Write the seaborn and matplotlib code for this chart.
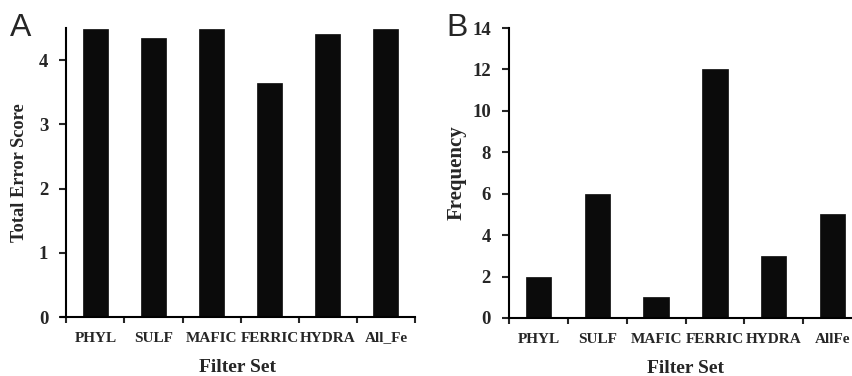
import matplotlib
matplotlib.use("Agg")
import matplotlib.pyplot as plt
import seaborn as sns
import pandas as pd
import numpy as np

# Filter sets and their scores
filter_sets_a = ["PHYL", "SULF", "MAFIC", "FERRIC", "HYDRA", "All_Fe"]
total_error = [4.49, 4.35, 4.49, 3.65, 4.41, 4.49]

filter_sets_b = ["PHYL", "SULF", "MAFIC", "FERRIC", "HYDRA", "AllFe"]
frequency = [2, 6, 1, 12, 3, 5]

sns.set_theme(style="ticks")
plt.rcParams["font.family"] = ["Liberation Serif", "DejaVu Serif"]
plt.rcParams["font.weight"] = "bold"

BAR = "#0b0b0b"
LW = 1.5

fig = plt.figure(figsize=(8.53, 3.76), dpi=100)
W, H = 853.0, 376.0

def px_axes(left, right, top, bottom):
    return fig.add_axes([left / W, 1 - bottom / H, (right - left) / W, (bottom - top) / H])

ax_a = px_axes(60.5, 415, 28, 317)
ax_b = px_axes(509, 862, 28, 318)

def style(ax, cats, vals, ylim, yticks, ylabel, xstart, ytick_fs, ylabel_fs, ylabel_pad):
    df = pd.DataFrame({"cat": cats, "val": vals})
    sns.barplot(data=df, x="cat", y="val", color=BAR, width=0.43,
                saturation=1, edgecolor=BAR, linewidth=0.5, ax=ax)
    ax.set_xlim(xstart, 5.5)
    ax.set_ylim(*ylim)
    ax.set_yticks(yticks)
    ax.set_xticks(range(len(cats)))
    ax.set_xticklabels(cats)
    ax.set_xticks(np.arange(-0.5, 6.0, 1.0), minor=True)
    ax.tick_params(axis="x", which="major", length=0, pad=10.5, labelsize=11)
    ax.tick_params(axis="x", which="minor", length=4, width=LW, direction="out")
    ax.tick_params(axis="y", which="major", length=5, width=LW, direction="out", pad=8,
                   labelsize=ytick_fs)
    for lab in ax.get_xticklabels() + ax.get_yticklabels():
        lab.set_fontweight("bold")
    for s in ["top", "right"]:
        ax.spines[s].set_visible(False)
    for s in ["left", "bottom"]:
        ax.spines[s].set_linewidth(LW)
        ax.spines[s].set_color("black")
    ax.spines["left"].set_position(("data", -0.5))
    ax.set_xlabel("Filter Set", fontsize=14, fontweight="bold", labelpad=10.5)
    ax.set_ylabel(ylabel, fontsize=ylabel_fs, fontweight="bold", labelpad=ylabel_pad)
    ax.patch.set_alpha(0)

style(ax_a, filter_sets_a, total_error, (0, 4.5), [0, 1, 2, 3, 4],
      "Total Error Score", -0.6, 13.5, 13.2, 8)
style(ax_b, filter_sets_b, frequency, (0, 14), [0, 2, 4, 6, 8, 10, 12, 14],
      "Frequency", -0.5, 13.5, 15, 4)

fig.text(10 / W, 1 - 36 / H, "A", fontsize=23, family=["Liberation Sans", "DejaVu Sans"],
         fontweight="normal", ha="left", va="baseline")
fig.text(446 / W, 1 - 36 / H, "B", fontsize=23, family=["Liberation Sans", "DejaVu Sans"],
         fontweight="normal", ha="left", va="baseline")

fig.savefig("out.png", dpi=100, facecolor="white")
